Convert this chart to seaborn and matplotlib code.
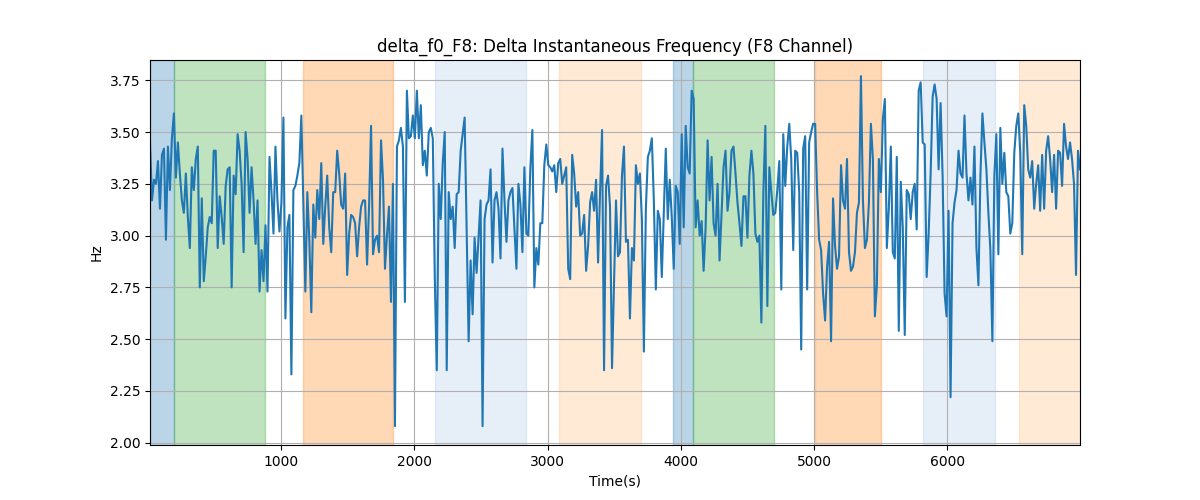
import numpy as np
import pandas as pd
import matplotlib
matplotlib.use("Agg")
import matplotlib.pyplot as plt
import seaborn as sns

# Series values (Hz), read in consecutive chunks along the time axis
seg1 = [3.45, 3.17, 3.27, 3.25, 3.36, 3.13, 3.39, 3.42, 2.98, 3.43, 3.22, 3.47, 3.59, 3.28, 3.45, 3.30,
        3.17, 3.11, 3.30, 3.09, 2.94, 3.33, 3.22, 3.37, 3.43, 2.75, 3.18, 2.78, 2.90, 3.04, 3.09, 3.06,
        3.41, 3.41, 2.94, 3.19, 3.09, 2.96, 3.24, 3.32, 3.33, 2.75, 3.29, 3.20, 3.49, 3.41, 3.25, 2.92,
        3.50, 3.37, 3.11, 3.33, 3.17, 2.96, 3.17, 2.73, 2.93, 2.78, 3.05, 2.73, 3.38, 3.21, 3.01, 3.43,
        3.17, 3.02, 3.16, 3.57, 2.60]
seg2 = [3.04, 3.10, 2.33, 3.22, 3.24, 3.29, 3.35, 3.58, 3.16, 2.73, 3.21, 2.98, 2.63, 3.15, 2.99, 3.22,
        3.08, 3.35, 2.96, 3.14, 3.29, 3.04, 2.92, 3.21, 3.21, 3.41, 3.30, 3.15, 3.13, 3.30, 2.81, 3.01,
        3.10, 3.09, 3.06, 2.90, 3.04, 3.14, 3.17, 3.17, 2.86, 3.14, 3.53, 2.91, 2.98, 3.00, 2.92, 3.46,
        3.27, 2.84, 3.00, 3.14, 2.68, 3.25, 2.08, 3.43, 3.46, 3.52, 3.43, 2.68, 3.70, 3.47, 3.48, 3.58,
        3.47]
seg3 = [3.70, 3.47, 3.63, 3.34, 3.41, 3.29, 3.50, 3.52, 3.47, 2.80, 2.35, 3.25, 3.08, 3.35, 3.50, 2.35,
        3.21, 3.08, 3.14, 2.94, 3.20, 3.21, 3.41, 3.49, 3.57, 3.04, 2.49, 2.88, 2.62, 2.99, 2.82, 3.00,
        3.17, 2.08, 3.08, 3.15, 3.17, 3.32, 2.87, 3.17, 3.21, 3.13, 2.89, 3.42, 3.17, 2.97, 3.17, 3.21,
        3.23, 3.04, 2.84, 3.25, 3.15, 2.92, 3.33, 3.01, 3.00, 3.33, 3.51, 2.75, 2.94, 2.86, 3.06, 3.06,
        3.34, 3.44, 3.34]
seg4 = [3.33, 3.31, 3.34, 3.21, 3.35, 3.37, 3.25, 3.29, 3.33, 2.84, 2.79, 3.39, 3.30, 3.14, 3.21, 3.00,
        3.01, 3.10, 2.83, 2.95, 3.16, 3.21, 3.12, 3.27, 2.87, 3.21, 3.51, 2.35, 3.24, 3.29, 3.14, 2.36,
        2.76, 3.17, 2.90, 2.92, 3.29, 3.43, 2.97, 2.98, 2.60, 2.94, 2.88, 3.34, 3.25, 3.30, 3.08, 2.44,
        3.13, 3.38, 3.41, 3.47, 3.17, 2.74, 3.12, 3.08, 2.80, 3.11, 3.42, 3.08, 3.27, 3.09, 2.84, 3.24,
        3.21, 2.96, 3.49]
seg5 = [3.04, 3.53, 3.33, 3.30, 3.70, 3.66, 3.04, 3.17, 3.00, 3.07, 2.83, 3.04, 3.46, 3.17, 3.38, 3.06,
        3.00, 3.25, 2.88, 3.11, 3.33, 3.41, 3.12, 3.21, 3.41, 3.43, 3.30, 3.16, 3.06, 2.95, 3.19, 3.19,
        2.99, 3.29, 3.41, 3.30, 3.01, 2.97, 3.00, 2.58, 3.21, 3.53, 2.66, 3.33, 3.21, 3.10, 3.11, 3.22,
        3.36, 2.74, 3.49, 3.24, 3.43, 3.54, 3.37, 2.93, 3.41, 3.40, 3.21, 2.45, 3.42, 3.48, 2.74, 3.45,
        3.50, 3.54, 3.54]
seg6 = [3.21, 2.98, 2.93, 2.72, 2.59, 2.85, 2.97, 2.49, 3.18, 2.95, 2.84, 2.90, 3.34, 3.17, 3.13, 3.37,
        2.92, 2.83, 2.85, 2.92, 3.11, 3.16, 3.77, 3.17, 2.94, 2.98, 3.16, 3.54, 3.37, 2.61, 2.76, 3.37,
        3.21, 3.56, 3.66, 2.94, 3.13, 3.43, 2.92, 2.89, 3.38, 2.54, 3.26, 3.04, 2.52, 3.22, 3.20, 3.08,
        3.21, 3.25, 3.03, 3.70, 3.74, 3.45, 3.44, 2.80, 3.01, 3.30, 3.67, 3.73, 3.66, 3.32, 3.64, 3.29,
        2.72, 2.61, 3.12]
seg7 = [2.22, 3.06, 3.16, 3.22, 3.41, 3.30, 3.28, 3.58, 3.30, 3.17, 3.28, 3.15, 3.43, 2.94, 2.76, 3.29,
        3.59, 3.45, 3.32, 3.11, 2.93, 2.49, 3.29, 3.49, 2.91, 3.52, 3.25, 3.40, 3.21, 3.19, 3.01, 3.06,
        3.40, 3.53, 3.59, 3.40, 2.91, 3.63, 3.53, 3.32, 3.28, 3.36, 3.13, 3.25, 3.34, 3.12, 3.39, 3.13,
        3.41, 3.48, 3.37, 3.21, 3.39, 3.13, 3.41, 3.40, 3.24, 3.54, 3.43, 3.37, 3.45, 3.37, 3.25, 2.81,
        3.41, 3.32]

freq = seg1 + seg2 + seg3 + seg4 + seg5 + seg6 + seg7
t_start, t_end = 16, 6995
time = np.linspace(t_start, t_end, len(freq))

# Shaded intervals (start, end) and colours
span_starts = [16, 198, 1161, 2153, 3084, 3941, 4094, 5006, 5820, 6539]
span_ends = [198, 880, 1837, 2841, 3698, 4094, 4698, 5502, 6359, 6995]
span_colors = ["#1f77b4", "#2ca02c", "#ff7f0e", "#aec7e8", "#ffbb78",
               "#1f77b4", "#2ca02c", "#ff7f0e", "#aec7e8", "#ffbb78"]

df = pd.DataFrame({"Time(s)": time, "Hz": freq})

fig, ax = plt.subplots(figsize=(12, 5), dpi=100)
for s, e, c in zip(span_starts, span_ends, span_colors):
    ax.axvspan(s, e, color=c, alpha=0.3, linewidth=1)

sns.lineplot(data=df, x="Time(s)", y="Hz", ax=ax, color="#1f77b4", linewidth=1.5)
ax.set_xlim(t_start, t_end)
ax.set_ylim(1.989, 3.848)
ax.grid(True)
ax.set_title("delta_f0_F8: Delta Instantaneous Frequency (F8 Channel)")
ax.set_xlabel("Time(s)")
ax.set_ylabel("Hz")

fig.savefig("out.png", dpi=100)
